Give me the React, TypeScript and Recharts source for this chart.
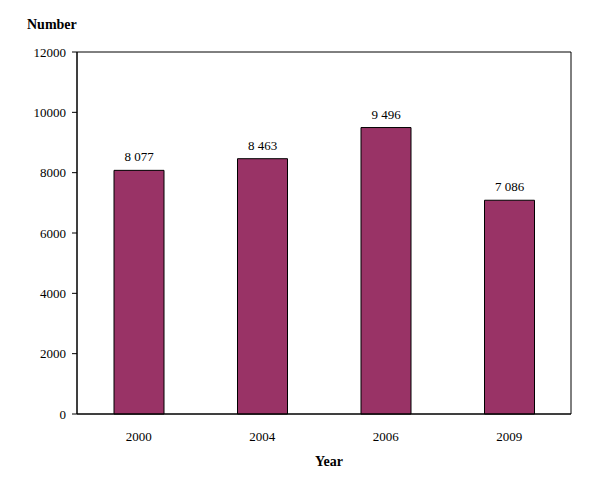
import React from "react";
import { BarChart, Bar, XAxis, YAxis, LabelList, ReferenceArea } from "recharts";

const years = ["2000", "2004", "2006", "2009"];
const counts = [8077, 8463, 9496, 7086];
const yTicks = [0, 2000, 4000, 6000, 8000, 10000, 12000];

const data = years.map((y, i) => ({ year: y, value: counts[i] }));

const FONT = "'Liberation Serif', 'Times New Roman', serif";

const fmt = (v: number) => {
  const s = String(v);
  return s.length > 3 ? s.slice(0, s.length - 3) + " " + s.slice(-3) : s;
};

export default function App() {
  return (
    <div style={{ position: "absolute", left: 0, top: 0, width: 601, height: 481, background: "#fff" }}>
      <BarChart
        width={601}
        height={481}
        data={data}
        margin={{ top: 52, right: 30, left: 27, bottom: 37 }}
        style={{ fontFamily: FONT }}
      >
        <XAxis
          dataKey="year"
          tickLine={false}
          tickSize={0}
          tickMargin={18}
          axisLine={{ stroke: "#000" }}
          tick={{ fill: "#000", stroke: "none", fontSize: 13, fontFamily: FONT }}
          height={30}
        />
        <YAxis
          domain={[0, 12000]}
          ticks={yTicks}
          interval={0}
          tickSize={5}
          tickMargin={6}
          axisLine={{ stroke: "#000" }}
          tickLine={{ stroke: "#000" }}
          tick={{ fill: "#000", stroke: "none", fontSize: 13, fontFamily: FONT }}
          width={50}
        />
        <ReferenceArea y1={0} y2={12000} fill="none" stroke="#000" strokeWidth={1} ifOverflow="visible" />
        <Bar
          dataKey="value"
          fill="#993366"
          stroke="#000"
          strokeWidth={1}
          barSize={50}
          isAnimationActive={false}
        >
          <LabelList
            dataKey="value"
            position="top"
            offset={9}
            formatter={(v: any) => fmt(Number(v))}
            style={{ fill: "#000", stroke: "none", fontSize: 13, fontFamily: FONT }}
          />
        </Bar>
        <text x={27} y={29} fontFamily={FONT} fontSize={14} fontWeight="bold" fill="#000">Number</text>
        <text x={329} y={466} fontFamily={FONT} fontSize={14} fontWeight="bold" fill="#000" textAnchor="middle">Year</text>
      </BarChart>
    </div>
  );
}
